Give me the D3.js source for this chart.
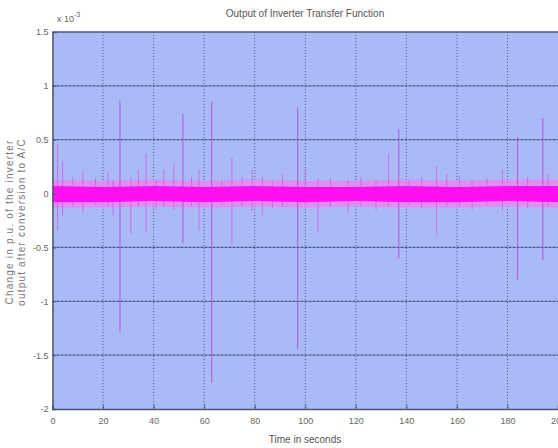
<!DOCTYPE html>
<html>
<head>
<meta charset="utf-8">
<script src="https://cdn.jsdelivr.net/npm/d3@7"></script>
<style>
  body { margin: 0; background: #fff; }
  svg { display: block; font-family: "Liberation Sans", sans-serif; }
</style>
</head>
<body>
<script>
// chart values (units of 10^-3)
const xTicks = [0, 20, 40, 60, 80, 100, 120, 140, 160, 180, 200]
const yTicks = [1.5, 1, 0.5, 0, -0.5, -1, -1.5, -2]

// envelope of the dense noise band around zero
const bandTimes = [0, 20, 40, 60, 80, 100, 120, 140, 160, 180, 200]
const bandHigh = [0.07, 0.06, 0.07, 0.06, 0.07, 0.06, 0.06, 0.07, 0.06, 0.07, 0.07]
const bandLow = [-0.08, -0.08, -0.07, -0.08, -0.07, -0.08, -0.07, -0.08, -0.08, -0.07, -0.08]
const hazeHigh = [0.13, 0.12, 0.13, 0.12, 0.13, 0.12, 0.12, 0.13, 0.12, 0.13, 0.13]
const hazeLow = [-0.13, -0.13, -0.12, -0.13, -0.12, -0.13, -0.12, -0.13, -0.13, -0.12, -0.13]

// transient spikes: time, peak above, peak below
const spikeTimes = [2, 4, 8, 12, 17, 22, 24, 26.7, 31, 34, 37, 41, 44, 48, 51.6, 55, 58, 63, 67, 71, 75, 79, 83, 87, 91, 97, 100, 105, 110, 117, 122, 128, 133, 137, 141, 146, 152, 156, 161, 166, 172, 178, 184, 188, 194, 196]
const spikeHigh = [0.46, 0.3, 0.15, 0.21, 0.14, 0.2, 0.12, 0.86, 0.15, 0.22, 0.37, 0.12, 0.22, 0.28, 0.74, 0.15, 0.22, 0.85, 0.12, 0.33, 0.15, 0.22, 0.15, 0.12, 0.18, 0.8, 0.23, 0.14, 0.14, 0.12, 0.15, 0.12, 0.37, 0.6, 0.12, 0.15, 0.26, 0.18, 0.16, 0.12, 0.14, 0.22, 0.52, 0.15, 0.7, 0.18]
const spikeLow = [-0.34, -0.2, -0.12, -0.18, -0.1, -0.12, -0.2, -1.29, -0.37, -0.12, -0.36, -0.15, -0.12, -0.15, -0.46, -0.12, -0.34, -1.76, -0.1, -0.48, -0.12, -0.16, -0.2, -0.14, -0.12, -1.45, -0.1, -0.36, -0.12, -0.18, -0.12, -0.15, -0.12, -0.6, -0.1, -0.14, -0.39, -0.12, -0.12, -0.15, -0.1, -0.16, -0.8, -0.14, -0.62, -0.12]

const width = 558
const height = 448
const plot = { left: 52.5, right: 558, top: 32, bottom: 409 }

const svg = d3.select('body').append('svg')
  .attr('width', width)
  .attr('height', height)

const x = d3.scaleLinear().domain([0, 200]).range([plot.left, plot.right])
const y = d3.scaleLinear().domain([-2, 1.5]).range([plot.bottom, plot.top])

// plot background
svg.append('rect')
  .attr('x', plot.left)
  .attr('y', plot.top)
  .attr('width', plot.right - plot.left)
  .attr('height', plot.bottom - plot.top)
  .attr('fill', '#aabaf6')

// grid
svg.append('g')
  .selectAll('line')
  .data(xTicks.slice(1, -1))
  .join('line')
  .attr('x1', d => x(d)).attr('x2', d => x(d))
  .attr('y1', plot.top).attr('y2', plot.bottom)
  .attr('stroke', '#4a5896')
  .attr('stroke-width', 1)
  .attr('stroke-dasharray', '1,2')

svg.append('g')
  .selectAll('line')
  .data(yTicks.slice(1, -1))
  .join('line')
  .attr('x1', plot.left).attr('x2', plot.right)
  .attr('y1', d => y(d)).attr('y2', d => y(d))
  .attr('stroke', '#465488')
  .attr('stroke-width', 1.2)
  .attr('stroke-dasharray', '3,1')

// noise band
const haze = d3.area()
  .x((d, i) => x(bandTimes[i]))
  .y0((d, i) => y(hazeLow[i]))
  .y1((d, i) => y(hazeHigh[i]))
svg.append('path')
  .datum(bandTimes)
  .attr('d', haze)
  .attr('fill', '#f080f0')
  .attr('opacity', 0.75)

// spikes
const spikes = spikeTimes.map((t, i) => ({ t, hi: spikeHigh[i], lo: spikeLow[i] }))
svg.append('g')
  .selectAll('line')
  .data(spikes)
  .join('line')
  .attr('x1', d => x(d.t)).attr('x2', d => x(d.t))
  .attr('y1', d => y(d.hi)).attr('y2', d => y(d.lo))
  .attr('stroke', d => (d.hi - d.lo > 1 ? '#b048d8' : '#d060e8'))
  .attr('stroke-width', 1)
  .attr('opacity', 0.85)

const band = d3.area()
  .x((d, i) => x(bandTimes[i]))
  .y0((d, i) => y(bandLow[i]))
  .y1((d, i) => y(bandHigh[i]))
svg.append('path')
  .datum(bandTimes)
  .attr('d', band)
  .attr('fill', '#ff10f0')

// axes
const xAxis = d3.axisBottom(x).tickValues(xTicks).tickFormat(d => String(d)).tickSize(-4).tickPadding(9)
const gx = svg.append('g')
  .attr('transform', `translate(0,${plot.bottom})`)
  .call(xAxis)
gx.select('.domain').attr('stroke', '#4c5576').attr('stroke-width', 1.5)
gx.selectAll('.tick line').attr('stroke', '#4c5576')
gx.selectAll('text').attr('fill', '#666').style('font-size', '9px')

const yAxis = d3.axisLeft(y).tickValues(yTicks).tickFormat(d => String(d)).tickSize(-4).tickPadding(4)
const gy = svg.append('g')
  .attr('transform', `translate(${plot.left},0)`)
  .call(yAxis)
gy.select('.domain').attr('stroke', '#4c5576').attr('stroke-width', 1.5)
gy.selectAll('.tick line').attr('stroke', '#4c5576')
gy.selectAll('text').attr('fill', '#666').style('font-size', '9px')

svg.append('line')
  .attr('x1', plot.left).attr('x2', plot.right)
  .attr('y1', plot.top).attr('y2', plot.top)
  .attr('stroke', '#4c5576')
  .attr('stroke-width', 1.5)

// exponent
const exp = svg.append('text')
  .attr('x', 57)
  .attr('y', 22)
  .attr('fill', '#666')
  .style('font-size', '9px')
exp.append('tspan').text('x 10')
exp.append('tspan').attr('dy', -5).style('font-size', '7px').text('-3')

// title and labels
svg.append('text')
  .attr('x', 305)
  .attr('y', 17)
  .attr('text-anchor', 'middle')
  .attr('fill', '#555')
  .style('font-size', '10px')
  .text('Output of Inverter Transfer Function')

svg.append('text')
  .attr('x', 305)
  .attr('y', 443)
  .attr('text-anchor', 'middle')
  .attr('fill', '#555')
  .style('font-size', '10px')
  .text('Time in seconds')

const yLabel = svg.append('text')
  .attr('transform', 'translate(13,222) rotate(-90)')
  .attr('text-anchor', 'middle')
  .attr('fill', '#777')
  .style('font-size', '10px')
  .style('letter-spacing', '1.2px')
yLabel.append('tspan').attr('x', 0).attr('dy', 0).text('Change in p.u. of the inverter')
yLabel.append('tspan').attr('x', 0).attr('dy', 12).text('output after conversion to A/C')
</script>
</body>
</html>
